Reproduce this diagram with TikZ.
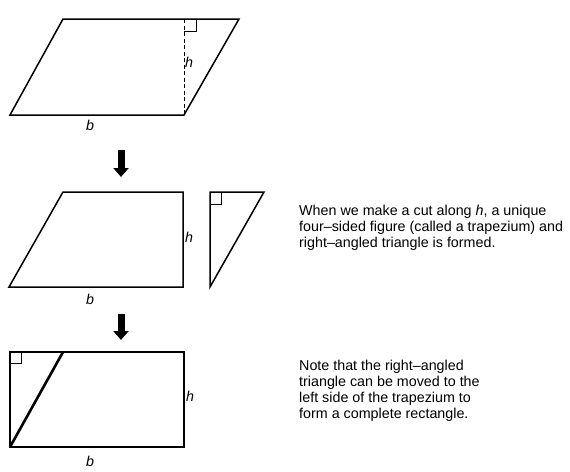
\documentclass[tikz,border=0pt]{standalone}
\usepackage{fontspec}
\setmainfont{Liberation Sans}
\usetikzlibrary{arrows.meta}
\begin{document}
\begin{tikzpicture}[x=1pt,y=-1pt,line join=miter,
    every node/.style={font=\fontsize{14.3}{16}\selectfont},
    fig/.style={line width=1.5pt},
    rightangle/.style={line width=0.7pt},
    bigarrow/.style={line width=7pt,-{Triangle[width=15pt,length=9pt]}},
    note/.style={anchor=base west,align=left,inner sep=0pt}]
    \useasboundingbox (0,0) rectangle (570,471);
    % parallelogram
    \draw[fig] (10,115)--(184,115)--(239,19)--(63,19)--cycle;
    \draw[dashed,line width=0.7pt,dash pattern=on 4pt off 2.5pt] (184,19)--(184,115);
    \draw[rightangle] (184,31)--(196,31)--(196,19);
    \node at (189,62) {\textit{h}};
    \node at (90,125) {\textit{b}};
    \draw[bigarrow] (121,150)--(121,177);
    % trapezium and triangle
    \draw[fig] (9,287)--(183,287)--(183,192)--(63,192)--cycle;
    \draw[fig] (210,287)--(210,192)--(264,192)--cycle;
    \draw[rightangle] (210,204)--(221,204)--(221,192);
    \node at (189,237) {\textit{h}};
    \node at (90,299) {\textit{b}};
    \node[note] at (299,247) {When we make a cut along \textit{h}, a unique\\four–sided figure (called a trapezium) and\\right–angled triangle is formed.};
    \draw[bigarrow] (121,314)--(121,340);
    % rectangle
    \draw[fig] (10,352) rectangle (184,447);
    \draw[line width=2.6pt] (10,447)--(63,352);
    \draw[rightangle] (10,363)--(21,363)--(21,352);
    \node at (190,396) {\textit{h}};
    \node at (90,461) {\textit{b}};
    \node[note] at (299,418) {Note that the right–angled\\triangle can be moved to the\\left side of the trapezium to\\form a complete rectangle.};
\end{tikzpicture}
\end{document}
